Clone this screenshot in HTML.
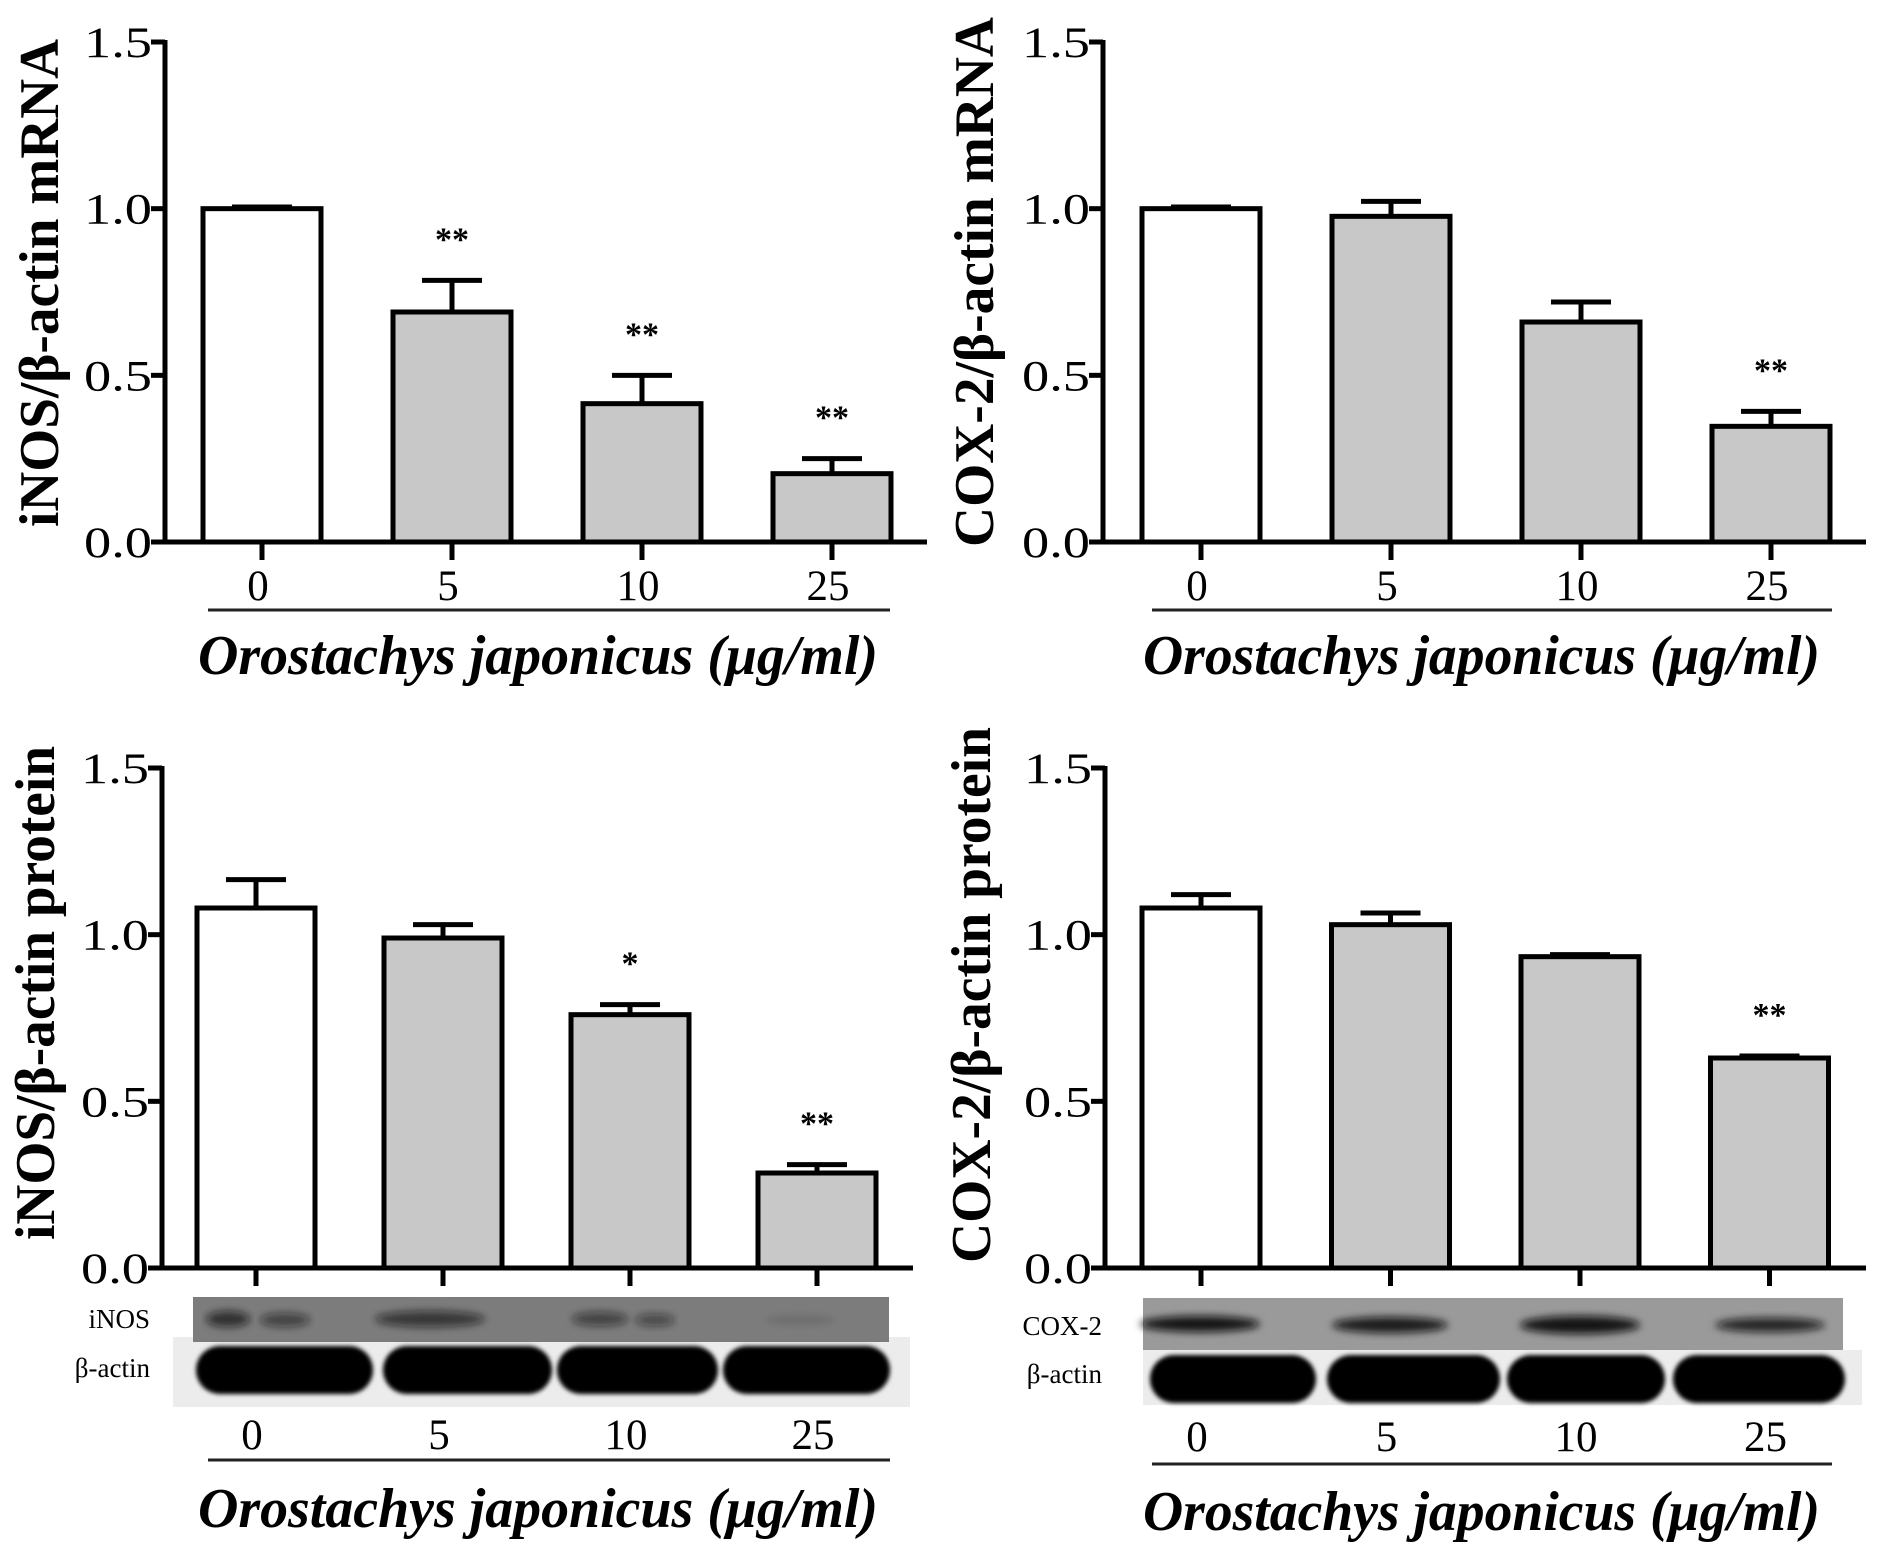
<!DOCTYPE html>
<html><head><meta charset="utf-8"><style>
html,body{margin:0;padding:0;background:#fff}
svg{display:block}
text{font-family:"Liberation Serif",serif;fill:#000}
</style></head><body>
<svg id="fig" width="1890" height="1544" viewBox="0 0 1890 1544">
<defs><filter id="blur" x="-10%" y="-50%" width="120%" height="200%"><feGaussianBlur stdDeviation="4"/></filter>
<filter id="blur2" x="-10%" y="-50%" width="120%" height="200%"><feGaussianBlur stdDeviation="2"/></filter></defs>
</svg>
<script>
const categories = ["0","5","10","25"];
const yTicks = [0,0.5,1.0,1.5];
const yTickLabels = ["0.0","0.5","1.0","1.5"];
const xTitle = "Orostachys japonicus (μg/ml)";
// panel A: iNOS mRNA
const aValues = [1.0, 0.69, 0.415, 0.205];
const aErrors = [0.005, 0.095, 0.085, 0.045];
const aStars = ["", "**", "**", "**"];
// panel B: COX-2 mRNA
const bValues = [1.0, 0.977, 0.66, 0.347];
const bErrors = [0.005, 0.045, 0.06, 0.045];
const bStars = ["", "", "", "**"];
// panel C: iNOS protein
const cValues = [1.08, 0.99, 0.76, 0.285];
const cErrors = [0.085, 0.04, 0.03, 0.025];
const cStars = ["", "", "*", "**"];
// panel D: COX-2 protein
const dValues = [1.08, 1.03, 0.934, 0.63];
const dErrors = [0.04, 0.035, 0.006, 0.006];
const dStars = ["", "", "", "**"];

const NS="http://www.w3.org/2000/svg";
const svg=document.getElementById('fig');
function mk(tag,attrs,parent){const e=document.createElementNS(NS,tag);for(const k in attrs)e.setAttribute(k,attrs[k]);(parent||svg).appendChild(e);return e;}

function panel(p){
  const g=mk('g',{});
  
  
  const unit=(p.base-p.top)/1.5;
  const y=v=>p.base-v*unit;
  const x=i=>p.x0+i*p.step;
  // y axis
  const ax=mk('line',{x1:p.ax,y1:y(1.5)-2,x2:p.ax,y2:p.base,stroke:'#000','stroke-width':5},g);
  
  
  yTicks.forEach((t,i)=>{
    mk('line',{x1:p.ax-14,y1:y(t),x2:p.ax,y2:y(t),stroke:'#000','stroke-width':5},g);
    const tl=mk('text',{x:p.ax-13,y:y(t)+15,'text-anchor':'end','font-size':43,textLength:68,lengthAdjust:'spacingAndGlyphs'},g);
    tl.textContent=yTickLabels[i];
    
    
  });
  // bars
  p.values.forEach((v,i)=>{
    const cx=x(i);
    const r=mk('rect',{x:cx-59,y:y(v),width:118,height:p.base-y(v),fill:i===0?'#fff':'#c8c8c8',stroke:'#000','stroke-width':5},g);
    
    
    const e=p.errors[i];
    const el=mk('path',{d:`M${cx},${y(v)} V${y(v+e)} M${cx-30},${y(v+e)} H${cx+30}`,stroke:'#000','stroke-width':5,fill:'none'},g);
    
    
    if(p.stars[i]){
      const s=mk('text',{x:cx,y:y(v+e)-p.starGap,'text-anchor':'middle','font-size':34,'font-weight':'bold',fill:'#222'},g);
      s.textContent=p.stars[i];
      
      
    }
    mk('line',{x1:cx,y1:p.base,x2:cx,y2:p.base+18,stroke:'#000','stroke-width':5},g);
  });
  const xa=mk('line',{x1:p.ax-14,y1:p.base,x2:p.axEnd,y2:p.base,stroke:'#000','stroke-width':5},g);
  
  
  // y title
  const yt=mk('text',{x:0,y:0,'text-anchor':'middle','font-size':56,'font-weight':'bold',transform:`translate(${p.ytx},${p.yty}) rotate(-90)`,textLength:p.ytLen,lengthAdjust:'spacingAndGlyphs'},g);
  yt.textContent=p.ytitle;
  
  
  // category labels
  categories.forEach((c,i)=>{
    const t=mk('text',{x:x(i)-4,y:p.labY,'text-anchor':'middle','font-size':43},g);
    t.textContent=c;
    
    
  });
  mk('line',{x1:p.ulX1,y1:p.ulY,x2:p.ulX2,y2:p.ulY,stroke:'#222','stroke-width':3},g);
  const xt=mk('text',{x:p.tX,y:p.tY,'font-size':56,'font-weight':'bold','font-style':'italic',textLength:p.tLen,lengthAdjust:'spacingAndGlyphs'},g);
  xt.textContent=xTitle;
  
  
  return {g,x};
}

panel({name:'inos-mrna-chart',values:aValues,errors:aErrors,stars:aStars,ax:165,axEnd:927,base:542,top:42,x0:262,step:190,starGap:30,
  ytitle:'iNOS/β-actin mRNA',ytx:58,yty:283,ytLen:488,labY:600,ulX1:208,ulX2:890,ulY:610,tX:198,tY:674,tLen:680});
panel({name:'cox2-mrna-chart',values:bValues,errors:bErrors,stars:bStars,ax:1103,axEnd:1866,base:542,top:42,x0:1201,step:190,starGap:30,
  ytitle:'COX-2/β-actin mRNA',ytx:993,yty:282,ytLen:530,labY:600,ulX1:1152,ulX2:1832,ulY:610,tX:1143,tY:674,tLen:677});
const C=panel({name:'inos-protein-chart',values:cValues,errors:cErrors,stars:cStars,ax:162,axEnd:913,base:1268,top:768,x0:256,step:187,starGap:30,
  ytitle:'iNOS/β-actin protein',ytx:54,yty:993,ytLen:494,labY:1449,ulX1:208,ulX2:890,ulY:1460,tX:198,tY:1527,tLen:680});
const D=panel({name:'cox2-protein-chart',values:dValues,errors:dErrors,stars:dStars,ax:1105,axEnd:1866,base:1268,top:768,x0:1201,step:189.5,starGap:30,
  ytitle:'COX-2/β-actin protein',ytx:990,yty:995,ytLen:536,labY:1451,ulX1:1152,ulX2:1832,ulY:1464,tX:1143,tY:1530,tLen:677});

// western blots
function blot(o){
  const g=mk('g',{});
  
  
  mk('rect',{x:o.ax1,y:o.ay1,width:o.ax2-o.ax1,height:o.ay2-o.ay1,fill:'#ececec'},g);
  mk('rect',{x:o.tx1,y:o.ty1,width:o.tx2-o.tx1,height:o.ty2-o.ty1,fill:o.tFill},g);
  o.targetBands.forEach(b=>mk('ellipse',{cx:b[0],cy:b[1],rx:b[2],ry:b[3],fill:'#111','fill-opacity':b[4],filter:'url(#blur)'},g));
  o.actin.forEach(b=>mk('rect',{x:b[0],y:o.acy-24,width:b[1]-b[0],height:48,rx:24,fill:'#050505',filter:'url(#blur2)'},g));
  const l1=mk('text',{x:o.lx,y:o.l1y,'text-anchor':'end','font-size':27},g);
  l1.textContent=o.tLabel;
  
  
  const l2=mk('text',{x:o.lx,y:o.l2y,'text-anchor':'end','font-size':27},g);
  l2.textContent='β-actin';
  
  
}
blot({name:'inos-western-blot',ax1:173,ax2:910,ay1:1337,ay2:1407,tx1:193,tx2:889,ty1:1297,ty2:1342,tFill:'#7c7c7c',
  targetBands:[[228,1319,22,8,.7],[285,1320,25,7,.55],[430,1319,55,8,.65],[600,1319,28,7,.55],[655,1320,20,6,.5],[800,1320,35,5,.12]],
  actin:[[196,373],[383,552],[557,718],[723,890]],acy:1370,lx:150,l1y:1328,l2y:1377,tLabel:'iNOS'});
blot({name:'cox2-western-blot',ax1:1143,ax2:1862,ay1:1350,ay2:1405,tx1:1143,tx2:1843,ty1:1298,ty2:1350,tFill:'#9a9a9a',
  targetBands:[[1200,1324,60,8,.95],[1390,1325,58,8,.9],[1580,1325,60,9,.95],[1770,1325,55,7,.85]],
  actin:[[1150,1316],[1327,1500],[1507,1665],[1673,1845]],acy:1379,lx:1102,l1y:1335,l2y:1383,tLabel:'COX-2'});
</script>
</body></html>
